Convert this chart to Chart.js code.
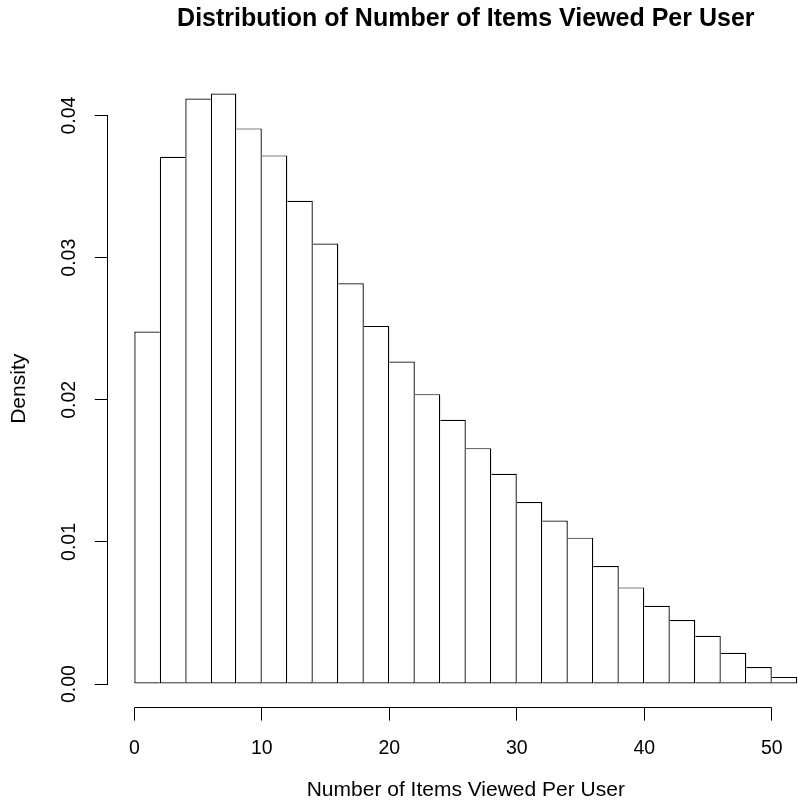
<!DOCTYPE html>
<html>
<head>
<meta charset="utf-8">
<title>Distribution of Number of Items Viewed Per User</title>
<script src="https://cdn.jsdelivr.net/npm/chart.js@4.4.1/dist/chart.umd.min.js"></script>
<style>
  html, body { margin: 0; padding: 0; background: #fff; overflow: hidden; }
  canvas { display: block; }
</style>
</head>
<body>
<canvas id="hist" width="840" height="807"></canvas>
<script>
// histogram bins (width 2, shown by their midpoints) and densities
const binMids = [1, 3, 5, 7, 9, 11, 13, 15, 17, 19, 21, 23, 25,
                 27, 29, 31, 33, 35, 37, 39, 41, 43, 45, 47, 49, 51];
const densities = [0.0248, 0.0371, 0.0412, 0.04155, 0.0391, 0.0372, 0.0340, 0.0310, 0.0282,
                   0.0252, 0.0227, 0.0204, 0.0186, 0.0166, 0.0148, 0.0128, 0.0115, 0.0103,
                   0.0083, 0.0068, 0.0055, 0.0045, 0.0034, 0.0022, 0.0012, 0.0005];
const xLimits = [-2.08, 54.08];     // R pads the range by 4%
const yLimits = [-0.00166, 0.04321];
const xTickStep = 10;
const yTickStep = 0.01;

const FONT = "'Liberation Sans', Arial, Helvetica, sans-serif";

// R only draws the axis line across the tick range, not the whole box
const rAxisLines = {
    id: 'rAxisLines',
    afterDraw: function (chart) {
        const ctx = chart.ctx;
        const area = chart.chartArea;
        const x = chart.scales.x, y = chart.scales.y;
        const xt = x.ticks, yt = y.ticks;
        const yb = Math.round(area.bottom - 0.5) + 0.5;
        const xl = Math.round(area.left - 0.5) + 0.5;
        ctx.save();
        ctx.strokeStyle = '#000';
        ctx.lineWidth = 1;
        ctx.beginPath();
        ctx.moveTo(x.getPixelForValue(xt[0].value), yb);
        ctx.lineTo(x.getPixelForValue(xt[xt.length - 1].value), yb);
        ctx.moveTo(xl, y.getPixelForValue(yt[0].value));
        ctx.lineTo(xl, y.getPixelForValue(yt[yt.length - 1].value));
        ctx.stroke();
        ctx.restore();
    }
};

// a shared edge between two bars is drawn once, by the taller of the two
function barBorder(c) {
    const i = c.dataIndex || 0;
    const h = densities[i];
    const left = (i === 0 || h > densities[i - 1]) ? 1.3 : 0;
    const right = (i === densities.length - 1 || h >= densities[i + 1]) ? 1.3 : 0;
    return { top: 1.2, right: right, bottom: 1.2, left: left };
}

const axisGrid = { display: true, offset: false, drawOnChartArea: false, drawTicks: true, tickLength: 13, color: '#000', lineWidth: 1 };

new Chart(document.getElementById('hist'), {
    type: 'bar',
    data: {
        datasets: [{
            data: binMids.map(function (m, i) { return { x: m, y: densities[i] }; }),
            backgroundColor: '#fff',
            borderColor: '#000',
            borderWidth: barBorder,
            borderSkipped: false,
            inflateAmount: 0,
            barPercentage: 1,
            categoryPercentage: 1
        }]
    },
    options: {
        responsive: false,
        animation: false,
        layout: { padding: { left: 0, top: 0, right: 16.2, bottom: 0 } },
        plugins: {
            legend: { display: false },
            tooltip: { enabled: false },
            title: {
                display: true,
                fullSize: false,
                text: 'Distribution of Number of Items Viewed Per User',
                color: '#000',
                font: { family: FONT, size: 25, weight: 'bold', lineHeight: 1.2 },
                padding: { top: 4.5, bottom: 35.5 }
            }
        },
        scales: {
            x: {
                type: 'linear',
                offset: false,
                min: xLimits[0],
                max: xLimits[1],
                afterFit: function (s) { s.height = 99.4; },
                grid: axisGrid,
                border: { display: false },
                ticks: {
                    stepSize: xTickStep,
                    includeBounds: false,
                    autoSkip: false,
                    maxRotation: 0,
                    color: '#000',
                    padding: 16,
                    font: { family: FONT, size: 19.5, lineHeight: 1.2 }
                },
                title: {
                    display: true,
                    text: 'Number of Items Viewed Per User',
                    color: '#000',
                    font: { family: FONT, size: 21, lineHeight: 1.2 },
                    padding: { top: 0, bottom: 4.4 }
                }
            },
            y: {
                type: 'linear',
                min: yLimits[0],
                max: yLimits[1],
                afterFit: function (s) { s.width = 107.8; },
                grid: axisGrid,
                border: { display: false },
                ticks: {
                    stepSize: yTickStep,
                    includeBounds: false,
                    autoSkip: false,
                    minRotation: 90,
                    maxRotation: 90,
                    crossAlign: 'center',
                    color: '#000',
                    padding: 6.3,
                    font: { family: FONT, size: 19.5, lineHeight: 1.2 },
                    callback: function (v) { return v.toFixed(2); }
                },
                title: {
                    display: true,
                    text: 'Density',
                    color: '#000',
                    font: { family: FONT, size: 21, lineHeight: 1.2 },
                    padding: { top: 6.2, bottom: 0 }
                }
            }
        }
    },
    plugins: [rAxisLines]
});
</script>
</body>
</html>
